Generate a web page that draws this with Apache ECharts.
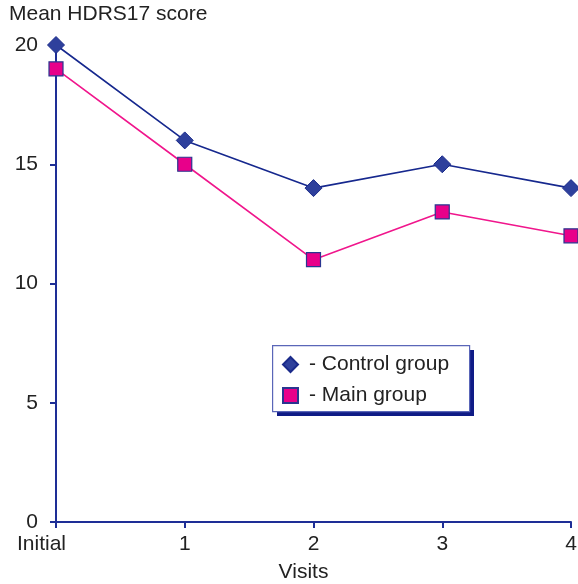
<!DOCTYPE html>
<html>
<head>
<meta charset="utf-8">
<script src="https://cdn.jsdelivr.net/npm/echarts@6/dist/echarts.min.js"></script>
<style>
  html, body { margin: 0; padding: 0; background: #fff; }
  #chart { width: 578px; height: 584px; }
</style>
</head>
<body>
<div id="chart"></div>
<script>
// Mean HDRS17 score per visit
const visits = ['Initial', '1', '2', '3', '4'];
const controlGroup = [20, 16, 14, 15, 14];
const mainGroup = [19, 15, 11, 13, 12];
const yTicks = { min: 0, max: 20, interval: 5 };

const FONT = '"Liberation Sans", Arial, sans-serif';
const AXIS_BLUE = '#1e2e96';
const TEXT = '#222';

const chart = echarts.init(document.getElementById('chart'));
chart.setOption({
  animation: false,
  title: {
    text: 'Mean HDRS17 score',
    left: 9,
    top: 4,
    padding: 0,
    textStyle: { fontFamily: FONT, fontSize: 21, fontWeight: 'normal', color: TEXT }
  },
  grid: { left: 56, right: 7, top: 45, bottom: 62, outerBoundsMode: 'none' },
  xAxis: {
    type: 'category',
    data: visits,
    boundaryGap: false,
    name: 'Visits',
    nameLocation: 'middle',
    nameGap: 40,
    nameTextStyle: { fontFamily: FONT, fontSize: 21, color: TEXT, padding: [0, 20, 0, 0] },
    axisLine: { lineStyle: { color: AXIS_BLUE, width: 2 } },
    axisTick: { show: true, length: 6, inside: false, alignWithLabel: true, lineStyle: { color: AXIS_BLUE, width: 2 } },
    axisLabel: {
      interval: 0,
      hideOverlap: false,
      fontFamily: FONT, fontSize: 21, color: TEXT, margin: 12,
      formatter: function (v, i) { return i === 0 ? '{first|' + v + '}' : v; },
      rich: { first: { fontFamily: FONT, fontSize: 21, color: TEXT, padding: [0, 29, 0, 0] } }
    },
    splitLine: { show: false }
  },
  yAxis: {
    type: 'value',
    min: yTicks.min,
    max: yTicks.max,
    interval: yTicks.interval,
    axisLine: { show: true, lineStyle: { color: AXIS_BLUE, width: 2 } },
    axisTick: { show: true, length: 6, lineStyle: { color: AXIS_BLUE, width: 2 } },
    axisLabel: { fontFamily: FONT, fontSize: 21, color: TEXT, margin: 18 },
    splitLine: { show: false }
  },
  legend: {
    orient: 'vertical',
    left: 282,
    top: 354,
    padding: 0,
    itemGap: 10,
    itemWidth: 15,
    itemHeight: 15,
    textStyle: { fontFamily: FONT, fontSize: 21, color: TEXT, padding: [0, 0, 0, 6] },
    data: [
      { name: '- Control group', icon: 'diamond' },
      { name: '- Main group', icon: 'rect' }
    ],
    z: 10
  },
  graphic: [
    {
      // drop shadow of the legend box
      type: 'rect',
      left: 277,
      top: 350,
      shape: { width: 197, height: 66 },
      style: { fill: '#0f1b86' },
      z: 5
    },
    {
      type: 'rect',
      left: 272,
      top: 345,
      shape: { width: 197, height: 66 },
      style: { fill: '#fff', stroke: '#5a66b8', lineWidth: 1.2 },
      z: 6
    }
  ],
  series: [
    {
      name: '- Control group',
      type: 'line',
      data: controlGroup,
      symbol: 'diamond',
      symbolSize: 17,
      lineStyle: { color: '#16288e', width: 1.6 },
      itemStyle: { color: '#2e409c', borderColor: '#1a2a8a', borderWidth: 1 },
      z: 3
    },
    {
      name: '- Main group',
      type: 'line',
      data: mainGroup,
      symbol: 'rect',
      symbolSize: 14,
      lineStyle: { color: '#f0168c', width: 1.6 },
      itemStyle: { color: '#e8008a', borderColor: '#2a3590', borderWidth: 1.2 },
      z: 4
    }
  ]
});
</script>
</body>
</html>
